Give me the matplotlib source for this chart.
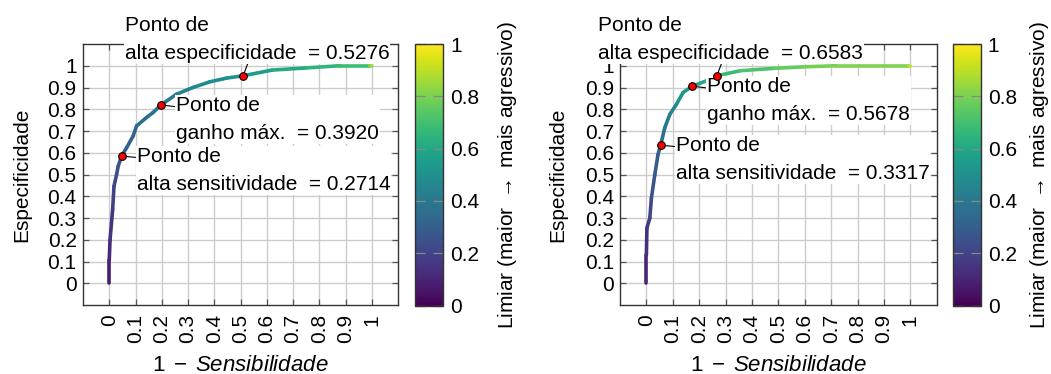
import numpy as np
import matplotlib
matplotlib.use("Agg")
import matplotlib.pyplot as plt
from matplotlib.collections import LineCollection
from matplotlib.cm import ScalarMappable
from matplotlib.colors import Normalize

plt.rcParams['font.family'] = ['Liberation Sans', 'DejaVu Sans']
plt.rcParams['mathtext.fontset'] = 'custom'
plt.rcParams['mathtext.rm'] = 'Liberation Sans'
plt.rcParams['mathtext.it'] = 'Liberation Sans:italic'
plt.rcParams['mathtext.fallback'] = 'cm'

# ---------------- data ----------------
left_x = [0.0, 0.0, 0.003, 0.013, 0.018, 0.028, 0.034, 0.047, 0.066, 0.091, 0.104, 0.142,
          0.167, 0.197, 0.256, 0.319, 0.383, 0.446, 0.51, 0.62, 0.75, 0.877, 0.995, 1.0]
left_y = [0.0, 0.107, 0.2, 0.34, 0.446, 0.5, 0.538, 0.585, 0.623, 0.677, 0.723, 0.762,
          0.785, 0.82, 0.869, 0.9, 0.926, 0.943, 0.954, 0.98, 0.99, 1.0, 1.0, 1.0]
left_thr = [0.05, 0.10, 0.13, 0.17, 0.20, 0.23, 0.25, 0.2714, 0.29, 0.32, 0.34, 0.36,
            0.375, 0.392, 0.42, 0.45, 0.48, 0.50, 0.5276, 0.58, 0.63, 0.67, 0.70, 1.0]

right_x = [0.0, 0.0, 0.002, 0.013, 0.019, 0.032, 0.044, 0.054, 0.07, 0.089, 0.114, 0.139,
           0.174, 0.228, 0.267, 0.355, 0.482, 0.596, 0.72, 0.995, 1.0]
right_y = [0.0, 0.13, 0.254, 0.3, 0.392, 0.5, 0.592, 0.635, 0.716, 0.777, 0.823, 0.877,
           0.906, 0.931, 0.954, 0.977, 0.988, 0.995, 1.0, 1.0, 1.0]
right_thr = [0.08, 0.12, 0.16, 0.19, 0.23, 0.27, 0.31, 0.3317, 0.38, 0.43, 0.48, 0.53,
             0.5678, 0.62, 0.6583, 0.70, 0.74, 0.78, 0.80, 0.81, 1.0]

# highlighted points: (x, y, label)
left_pts = [(0.047, 0.585, "Ponto de\nalta sensitividade  = 0.2714"),
            (0.197, 0.82, "Ponto de\nganho máx.  = 0.3920"),
            (0.51, 0.954, "Ponto de\nalta especificidade  = 0.5276")]
right_pts = [(0.054, 0.635, "Ponto de\nalta sensitividade  = 0.3317"),
             (0.174, 0.906, "Ponto de\nganho máx.  = 0.5678"),
             (0.267, 0.954, "Ponto de\nalta especificidade  = 0.6583")]

ticks = [0, 0.1, 0.2, 0.3, 0.4, 0.5, 0.6, 0.7, 0.8, 0.9, 1.0]
tick_labels = ["0", "0.1", "0.2", "0.3", "0.4", "0.5", "0.6", "0.7", "0.8", "0.9", "1"]
cb_ticks = [0, 0.2, 0.4, 0.6, 0.8, 1.0]
cb_labels = ["0", "0.2", "0.4", "0.6", "0.8", "1"]

xlabel = r"$1\;-\;Sensibilidade$"
ylabel = "Especificidade"
cblabel = r"Limiar (maior $\rightarrow$ mais agressivo)"

# ---------------- figure ----------------
W, H = 1051, 374
fig = plt.figure(figsize=(W / 100, H / 100), dpi=100)

def px_axes(x0, y0, x1, y1):
    return fig.add_axes([x0 / W, 1 - y1 / H, (x1 - x0) / W, (y1 - y0) / H])

cmap = plt.get_cmap('viridis')
norm = Normalize(0, 1)

TICK_FS = 15
LAB_FS = 15
XLAB_FS = 16
ANN_FS = 15

def draw(ax, cax, xs, ys, thr, pts, cb_lab_x):
    xs = np.asarray(xs); ys = np.asarray(ys); thr = np.asarray(thr)
    ax.set_xlim(-0.1, 1.1)
    ax.set_ylim(-0.1, 1.1)
    ax.set_xticks(ticks)
    ax.set_xticklabels(tick_labels, rotation=90, fontsize=TICK_FS)
    ax.set_yticks(ticks)
    ax.set_yticklabels(tick_labels, fontsize=TICK_FS)
    ax.grid(True, color='#cccccc', lw=1.0, zorder=0)
    ax.set_axisbelow(True)
    ax.tick_params(direction='in', top=True, right=True, length=4, width=0.9,
                   color='#555555')
    ax.tick_params(axis='x', pad=6.5)
    ax.tick_params(axis='y', pad=4.5)
    for s in ax.spines.values():
        s.set_color('#333333')
        s.set_linewidth(1.0)
    pts_arr = np.column_stack([xs, ys])
    segs = np.stack([pts_arr[:-1], pts_arr[1:]], axis=1)
    cols = cmap(norm((thr[:-1] + thr[1:]) / 2))
    lc = LineCollection(segs, colors=cols, linewidths=2.6, capstyle='round', zorder=3)
    ax.add_collection(lc)
    for i, (px, py, lab) in enumerate(pts):
        ax.plot([px], [py], 'o', ms=5.5, mfc='red', mec='black', mew=0.8, zorder=8)
        if i < 2:
            ax.annotate(lab, xy=(px, py), xytext=(10.8, -10.2), textcoords='offset points',
                        ha='left', va='center', multialignment='left',
                        fontsize=ANN_FS, linespacing=1.6,
                        bbox=dict(boxstyle='square,pad=0.05', fc='white', ec='none'),
                        arrowprops=dict(arrowstyle='-', color='black', lw=0.8,
                                        shrinkA=0, shrinkB=2),
                        zorder=6, annotation_clip=False)
        else:
            ax.annotate(lab, xy=(px, py), xytext=(10.0, 9.4), textcoords='offset points',
                        ha='center', va='bottom', multialignment='left',
                        fontsize=ANN_FS, linespacing=1.6,
                        bbox=dict(boxstyle='square,pad=0.05', fc='white', ec='none'),
                        arrowprops=dict(arrowstyle='-', color='black', lw=0.8,
                                        shrinkA=0, shrinkB=2),
                        zorder=6, annotation_clip=False)
    ax.set_xlabel(xlabel, fontsize=XLAB_FS)
    ax.set_ylabel(ylabel, fontsize=LAB_FS)
    ax.xaxis.set_label_coords(0.5, -0.19)
    ax.yaxis.set_label_coords(-0.165, 0.5)

    sm = ScalarMappable(norm=norm, cmap=cmap)
    cb = fig.colorbar(sm, cax=cax)
    cb.set_ticks(cb_ticks)
    cb.set_ticklabels(cb_labels)
    cb.outline.set_edgecolor('#333333')
    cb.outline.set_linewidth(1.0)
    cax.tick_params(direction='in', left=True, right=True, length=7, width=0.9,
                    color='#888888', labelsize=TICK_FS, pad=5)
    cb.set_label(cblabel, fontsize=LAB_FS)
    cax.yaxis.set_label_coords(cb_lab_x, 0.5)

ax1 = px_axes(83, 44, 398, 305)
cax1 = px_axes(415, 44, 443.3, 305.5)
ax2 = px_axes(620, 44, 936.7, 305)
cax2 = px_axes(952.7, 44, 980.7, 305.5)

draw(ax1, cax1, left_x, left_y, left_thr, left_pts, 2.86)
draw(ax2, cax2, right_x, right_y, right_thr, right_pts, 2.7)

fig.savefig("out.png", dpi=100)
